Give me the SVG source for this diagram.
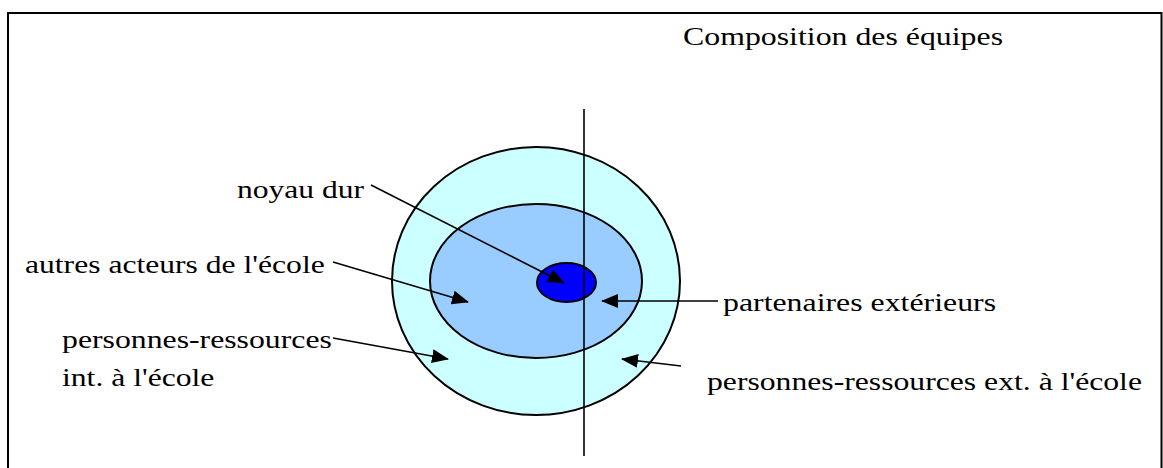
<svg xmlns="http://www.w3.org/2000/svg" width="1163" height="468" viewBox="0 0 1163 468">
<style>
text{font-family:"Liberation Serif","Times New Roman",serif;font-size:25px;fill:#000}
.ring{stroke:#000;stroke-width:2}
.conn{stroke:#000;stroke-width:1.6;fill:none;marker-end:url(#ah)}
</style>
<defs>
<marker id="ah" markerUnits="userSpaceOnUse" markerWidth="18" markerHeight="15" refX="16" refY="7" orient="auto">
<path d="M0,0 L17,7 L0,14 Z" fill="#000"/>
</marker>
</defs>
<rect width="1163" height="468" fill="#fff"/>
<g id="frame" fill="none" stroke="#000" stroke-width="2">
<path d="M8,468 V13 H1161.5 V468"/>
</g>
<g id="title"><text transform="translate(683,45) scale(1.27,1)" textLength="252" lengthAdjust="spacingAndGlyphs">Composition des équipes</text></g>
<g id="outer"><ellipse class="ring" cx="536" cy="281" rx="144" ry="134" fill="#CCFFFF"/></g>
<g id="inner"><ellipse class="ring" cx="536" cy="281" rx="106" ry="77" fill="#99CCFF"/></g>
<g id="core"><ellipse class="ring" cx="566.5" cy="282.5" rx="29.5" ry="19.5" fill="#0000FF"/></g>
<g id="divider"><line x1="584" y1="109" x2="584" y2="456" stroke="#000" stroke-width="1.6"/></g>
<g id="connectors">
<line class="conn" x1="371" y1="185" x2="564" y2="283"/>
<line class="conn" x1="333" y1="262" x2="468" y2="302"/>
<line class="conn" x1="333" y1="338" x2="448" y2="359"/>
<line class="conn" x1="718" y1="301" x2="602" y2="301"/>
<line class="conn" x1="681" y1="366" x2="622" y2="359"/>
</g>
<g id="label-noyau"><text transform="translate(237,198) scale(1.27,1)" textLength="100" lengthAdjust="spacingAndGlyphs">noyau dur</text></g>
<g id="label-autres"><text transform="translate(25,273) scale(1.27,1)" textLength="236" lengthAdjust="spacingAndGlyphs">autres acteurs de l'école</text></g>
<g id="label-int">
<text transform="translate(62,348) scale(1.27,1)" textLength="212.5" lengthAdjust="spacingAndGlyphs">personnes-ressources</text>
<text transform="translate(62,386) scale(1.27,1)" textLength="120" lengthAdjust="spacingAndGlyphs">int. à l'école</text>
</g>
<g id="label-partenaires"><text transform="translate(723,311) scale(1.27,1)" textLength="215" lengthAdjust="spacingAndGlyphs">partenaires extérieurs</text></g>
<g id="label-ext"><text transform="translate(707,390) scale(1.27,1)" textLength="342.5" lengthAdjust="spacingAndGlyphs">personnes-ressources ext. à l'école</text></g>
</svg>
